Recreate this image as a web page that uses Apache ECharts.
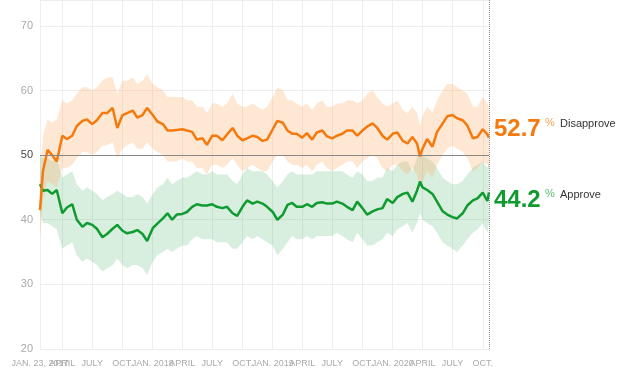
<!DOCTYPE html>
<html>
<head>
<meta charset="utf-8">
<script src="https://cdn.jsdelivr.net/npm/echarts@6/dist/echarts.min.js"></script>
<style>
html, body { margin: 0; background: #fff; }
#approval { width: 640px; height: 377px; }
</style>
</head>
<body>
<div id="approval"></div>
<script>
// semi-monthly readings
const dates = [
  '2017-01-23','2017-02-01','2017-02-15','2017-03-01','2017-03-15','2017-04-01','2017-04-15','2017-05-01','2017-05-15','2017-06-01','2017-06-15','2017-07-01','2017-07-15','2017-08-01','2017-08-15','2017-09-01','2017-09-15','2017-10-01','2017-10-15','2017-11-01','2017-11-15','2017-12-01','2017-12-15',
  '2018-01-01','2018-01-15','2018-02-01','2018-02-15','2018-03-01','2018-03-15','2018-04-01','2018-04-15','2018-05-01','2018-05-15','2018-06-01','2018-06-15','2018-07-01','2018-07-15','2018-08-01','2018-08-15','2018-09-01','2018-09-15','2018-10-01','2018-10-15','2018-11-01','2018-11-15','2018-12-01','2018-12-15',
  '2019-01-01','2019-01-15','2019-02-01','2019-02-15','2019-03-01','2019-03-15','2019-04-01','2019-04-15','2019-05-01','2019-05-15','2019-06-01','2019-06-15','2019-07-01','2019-07-15','2019-08-01','2019-08-15','2019-09-01','2019-09-15','2019-10-01','2019-10-15','2019-11-01','2019-11-15','2019-12-01','2019-12-15',
  '2020-01-01','2020-01-15','2020-02-01','2020-02-15','2020-03-01','2020-03-15','2020-03-24','2020-04-01','2020-04-15','2020-05-01','2020-05-15','2020-06-01','2020-06-15','2020-07-01','2020-07-15','2020-08-01','2020-08-15','2020-09-01','2020-09-15','2020-10-01','2020-10-15','2020-10-20'
]
const disapprove = [
  41.5,47.5,50.8,50.0,49.0,53.0,52.5,53.0,54.5,55.3,55.5,54.8,55.4,56.5,56.5,57.3,54.2,56.2,56.5,56.9,55.8,56.2,57.3,
  56.2,55.2,54.8,53.8,53.8,53.9,54.0,53.8,53.6,52.4,52.6,51.6,53.0,53.0,52.3,53.2,54.2,53.0,52.3,52.6,53.0,52.8,52.2,52.4,
  54.0,55.3,55.0,53.8,53.3,53.3,52.7,53.4,52.4,53.5,53.8,52.9,52.6,53.0,53.3,53.8,53.8,53.0,53.8,54.4,54.9,54.2,53.0,52.4,
  53.3,53.5,52.2,51.8,52.8,51.8,49.8,51.0,52.5,51.3,53.6,54.9,56.0,56.2,55.7,55.4,54.6,52.6,52.8,54.0,53.2,52.7
]
const disapproveHigh = [
  46,53,55.5,55,55.5,58.5,58,58.5,59.5,60.5,60.5,60,60.5,61.5,62,62,59.5,61.5,61.5,62,61,61.5,62.5,
  61,60.5,60,59,59,59,59,58.5,58.5,57.5,57.5,56.5,58,58,57.5,58,59.5,58,57.5,57.5,58,57.5,57,57.5,
  59,60.5,60,58.5,58.5,58,57.5,58,57,58,58.5,57.5,57.5,58,58,58.5,58.5,58,58.5,59.5,60,59,58,57.5,
  58,58.5,57,56.5,57.5,56.5,54.5,56,57.5,56.5,58.5,60,61,61,60.5,60,59.5,57.5,57.5,59,58,57.5
]
const disapproveLow = [
  37,43,46,45.5,45,48,48,48.5,49.5,50.5,50.5,50,50.5,51.5,51.5,52,49.5,51,51.5,52,51,51,52,
  51,50.5,50,49,49,49,49.5,49,49,48,48,47,48.5,48.5,48,48.5,49.5,48.5,47.5,48,48.5,48,47.5,47.5,
  49,50,50,49,48.5,48.5,48,48.5,47.5,48.5,49,48,47.5,48,48.5,49,49,48,49,49.5,50,49.5,48,47.5,
  48.5,48.5,47.5,47,48,47,45,46,47.5,46.5,48.5,50,51,51.5,51,50.5,49.5,47.5,48,49,48.5,48
]
const approve = [
  45.5,44.5,44.6,44.0,44.6,41.0,41.9,42.4,40.0,38.9,39.5,39.2,38.6,37.3,37.8,38.6,39.2,38.3,37.9,38.1,38.4,37.8,36.7,
  38.7,39.4,40.2,41.0,40.0,40.8,40.9,41.2,42.0,42.4,42.2,42.2,42.4,42.0,41.8,42.0,41.0,40.6,42.0,43.0,42.5,42.8,42.5,42.0,
  41.2,40.0,40.8,42.3,42.6,42.0,42.0,42.4,42.0,42.6,42.7,42.5,42.5,42.8,42.5,42.0,41.5,42.8,41.8,40.8,41.3,41.6,41.8,43.2,
  42.6,43.5,44.0,44.2,42.8,44.5,45.9,45.0,44.6,44.0,42.8,41.3,40.8,40.4,40.2,41.0,42.2,43.0,43.3,44.2,42.9,44.2
]
const approveHigh = [
  50,49.5,49.5,49,49.5,46.5,47,47.5,45.5,44.5,45,44.5,44,43,43.5,44,44.5,44,43.5,43.5,44,43.5,42.5,
  44,45,45.5,46.5,45.5,46,46.5,46.5,47,47.5,47,47,47.5,47,47,47,46,45.5,47,48,47.5,47.5,47.5,47,
  46,45,46,47,47.5,47,47,47,47,47.5,47.5,47.5,47.5,47.5,47.5,47,46.5,47.5,47,46,46,46.5,46.5,48,
  47.5,48.5,49,49,47.5,49.5,51,50,49.5,49,48,46.5,46,45.5,45.5,46,47,48,48.5,49,48,49
]
const approveLow = [
  41,39.5,39.5,39,38.5,35.5,36,36.5,34.5,33.5,34,33.5,33,32,32.5,33,34,33,32.5,33,33,32.5,31.5,
  33.5,34.5,35,35.5,35,35.5,36,36,37,37.5,37,37,37,36.5,36.5,36.5,35.5,35.5,36.5,37.5,37,37.5,37,36.5,
  36,34.5,35.5,36.5,37.5,37,37,37.5,37,37.5,37.5,37.5,37.5,38,37.5,37,36.5,38,37,36,36,36.5,37,38,
  37.5,38.5,39,39.5,38,39.5,41,40,39.5,39,38,36.5,36,35.5,35,36,37,38,38.5,39.5,38,39.5
]
const tickDates = [
  '2017-01-23','2017-04-01','2017-07-01','2017-10-01','2018-01-01','2018-04-01','2018-07-01','2018-10-01',
  '2019-01-01','2019-04-01','2019-07-01','2019-10-01','2020-01-01','2020-04-01','2020-07-01','2020-10-01'
]
const tickLabels = [
  'JAN. 23, 2017','APRIL','JULY','OCT.','JAN. 2018','APRIL','JULY','OCT.',
  'JAN. 2019','APRIL','JULY','OCT.','JAN. 2020','APRIL','JULY','OCT.'
]

const ORANGE = '#f5790c'
const GREEN = '#0f9b30'
const toTime = s => Date.parse(s + 'T00:00:00Z')
const times = dates.map(toTime)
const tickTimes = tickDates.map(toTime)
const endTime = times[times.length - 1]
const tickText = v => tickLabels[tickTimes.indexOf(v)] || ''

function band (high, low, fill) {
  return {
    type: 'custom',
    silent: true,
    z: 1,
    data: times.map((t, i) => [t, high[i], low[i]]),
    encode: { x: 0, y: [1, 2] },
    renderItem (params, api) {
      if (params.dataIndex !== 0) return
      const pts = []
      for (let i = 0; i < times.length; i++) pts.push(api.coord([times[i], high[i]]))
      for (let i = times.length - 1; i >= 0; i--) pts.push(api.coord([times[i], low[i]]))
      return { type: 'polygon', shape: { points: pts }, style: { fill: fill } }
    }
  }
}

function line (values, color) {
  return {
    type: 'line',
    z: 4,
    silent: true,
    showSymbol: false,
    data: times.map((t, i) => [t, values[i]]),
    lineStyle: { color: color, width: 2.5 },
    itemStyle: { color: color }
  }
}

const labelStyle = { color: '#aaaaaa', fontSize: 9, fontFamily: 'Liberation Sans', margin: 10 }

const chart = echarts.init(document.getElementById('approval'))
const lastDis = disapprove[disapprove.length - 1].toFixed(1)
const lastApp = approve[approve.length - 1].toFixed(1)

chart.setOption({
  animation: false,
  grid: { left: 40, right: 151, top: 0, bottom: 28 },
  xAxis: [
    {
      type: 'value',
      min: times[0],
      max: endTime,
      axisLine: { show: false },
      axisTick: { show: false, customValues: tickTimes },
      splitLine: { show: true, lineStyle: { color: '#eeeeee', width: 1 } },
      axisLabel: Object.assign({ customValues: tickTimes.slice(1), formatter: tickText }, labelStyle)
    },
    {
      // start date label, on its own so it may overlap "APRIL" like the original
      type: 'value',
      position: 'bottom',
      min: times[0],
      max: endTime,
      axisLine: { show: false },
      axisTick: { show: false },
      splitLine: { show: false },
      axisLabel: Object.assign({ customValues: tickTimes.slice(0, 1), showMinLabel: true, formatter: tickText }, labelStyle)
    }
  ],
  yAxis: {
    type: 'value',
    min: 20,
    max: 74,
    interval: 10,
    axisLine: { show: false },
    axisTick: { show: false },
    splitLine: { lineStyle: { color: '#eeeeee', width: 1 } },
    axisLabel: {
      showMaxLabel: false,
      fontSize: 11,
      fontFamily: 'Liberation Sans',
      margin: 7,
      color: v => (+v === 50 ? '#444444' : '#aaaaaa')
    }
  },
  series: [
    band(approveHigh, approveLow, 'rgba(60,170,90,0.2)'),
    band(disapproveHigh, disapproveLow, 'rgba(253,175,110,0.3)'),
    {
      type: 'line',
      data: [],
      z: 3,
      silent: true,
      markLine: {
        silent: true,
        symbol: 'none',
        label: { show: false },
        data: [
          { yAxis: 50, lineStyle: { color: '#888888', type: 'solid', width: 1 } },
          { xAxis: endTime, lineStyle: { color: '#888888', type: 'dotted', width: 1 } }
        ]
      }
    },
    line(approve, GREEN),
    line(disapprove, ORANGE)
  ],
  graphic: [
    { type: 'text', x: 494, y: 129, style: { text: lastDis, font: 'bold 24px "Liberation Sans"', fill: ORANGE, verticalAlign: 'middle' } },
    { type: 'text', x: 545, y: 123, style: { text: '%', font: '11px "Liberation Sans"', fill: '#f8a25a', verticalAlign: 'middle' } },
    { type: 'text', x: 560, y: 124, style: { text: 'Disapprove', font: '11px "Liberation Sans"', fill: '#333333', verticalAlign: 'middle' } },
    { type: 'text', x: 494, y: 200, style: { text: lastApp, font: 'bold 24px "Liberation Sans"', fill: GREEN, verticalAlign: 'middle' } },
    { type: 'text', x: 545, y: 194, style: { text: '%', font: '11px "Liberation Sans"', fill: '#5cbb74', verticalAlign: 'middle' } },
    { type: 'text', x: 560, y: 195, style: { text: 'Approve', font: '11px "Liberation Sans"', fill: '#333333', verticalAlign: 'middle' } }
  ]
})
</script>
</body>
</html>
